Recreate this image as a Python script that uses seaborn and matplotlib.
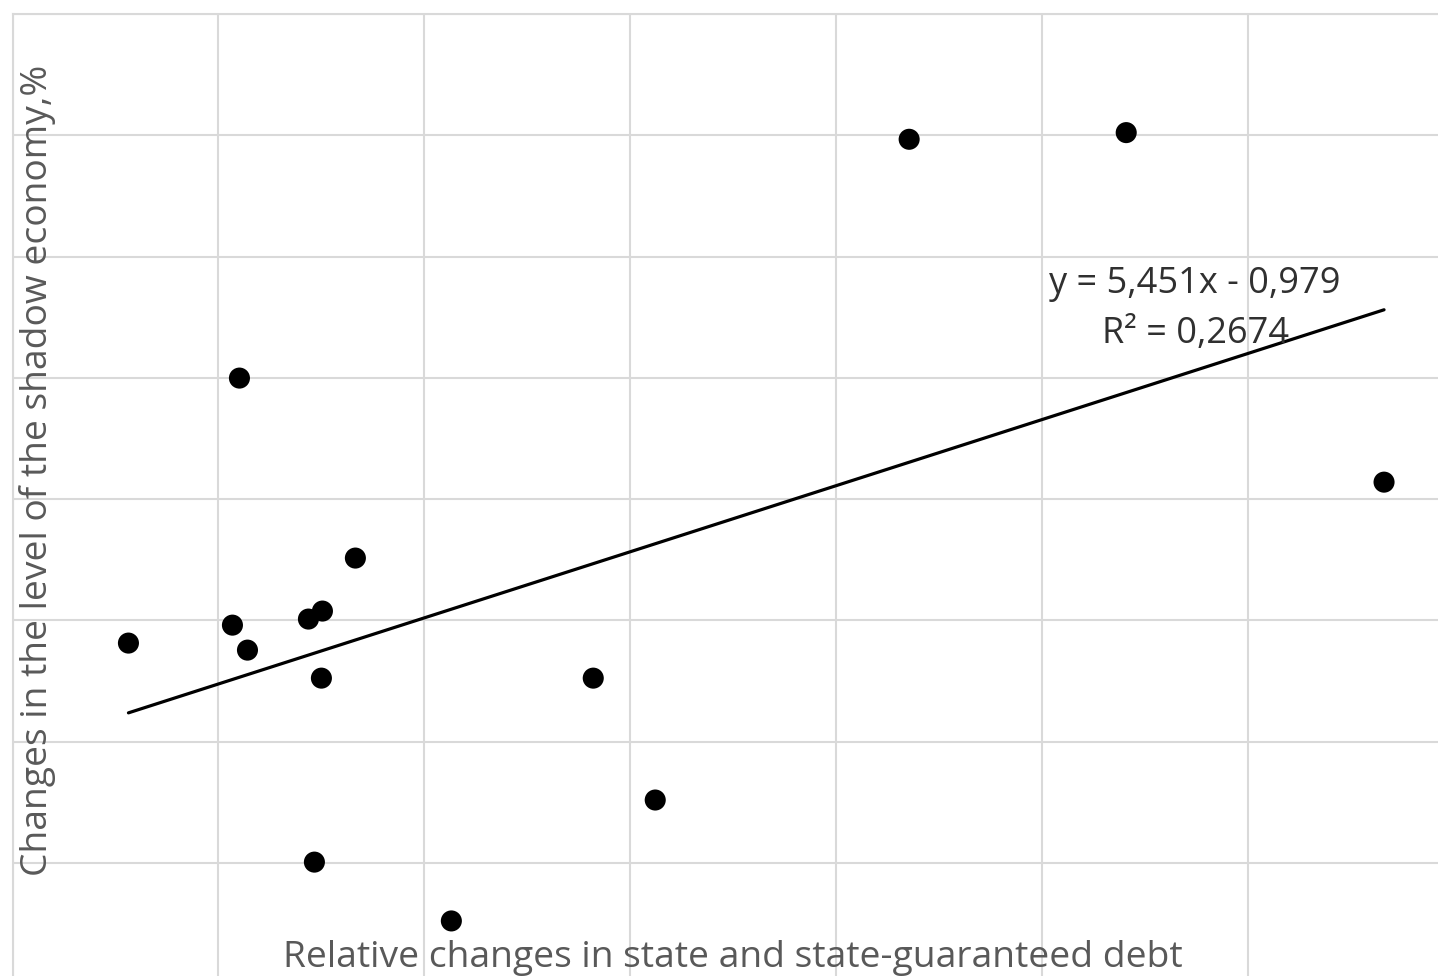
import numpy as np
import pandas as pd
import matplotlib
matplotlib.use("Agg")
import matplotlib.pyplot as plt
import seaborn as sns

# Relative change in state and state-guaranteed debt (x) vs change in shadow economy level, % (y)
debt_change = [-0.1437, -0.0898, -0.0932, -0.0859, -0.0563, -0.0495, -0.0335,
               -0.0500, -0.0534, 0.0131, 0.0820, 0.1121, 0.2354, 0.3408, 0.4660]
shadow_change = [-1.187, 0.998, -1.039, -1.245, -0.989, -0.923, -0.486,
                 -1.476, -2.993, -3.478, -1.476, -2.481, 2.967, 3.022, 0.140]

# Linear trend as reported on the chart
slope = 5.451
intercept = -0.979
r_squared = "0,2674"

x_title = "Relative changes in state and state-guaranteed debt"
y_title = "Changes in the level of the shadow economy,%"

df = pd.DataFrame({"x": debt_change, "y": shadow_change})
x_line = np.array([min(debt_change), max(debt_change)])
trend = pd.DataFrame({"x": x_line, "y": slope * x_line + intercept})

sns.set_theme(style="white")
plt.rcParams["font.family"] = ["Open Sans", "DejaVu Sans"]

W, H = 1438, 976
fig = plt.figure(figsize=(W / 100, H / 100), dpi=100)
ax = fig.add_axes([12.5 / W, 0, 1 - 12.5 / W, (H - 14) / H])

grid_c = "#d9d9d9"
sns.lineplot(data=trend, x="x", y="y", ax=ax, color="black", linewidth=2.3, zorder=3)
sns.scatterplot(data=df, x="x", y="y", ax=ax, color="black", s=230,
                edgecolor="none", zorder=4)
ax.set_xlabel("")
ax.set_ylabel("")

# ticks first, then limits (set_ticks would otherwise widen the view)
ax.set_xticks([-0.2, -0.1, 0.0, 0.1, 0.2, 0.3, 0.4])
ax.set_yticks([-4, -3, -2, -1, 0, 1, 2, 3, 4])
ax.set_xlim(-0.2, 0.4922)
ax.set_ylim(-3.932, 4.0)
ax.grid(True, color=grid_c, linewidth=1.5)
ax.tick_params(length=0, labelbottom=False, labelleft=False)
for side in ["left", "top"]:
    ax.spines[side].set_color(grid_c)
    ax.spines[side].set_linewidth(1.5)
for side in ["right", "bottom"]:
    ax.spines[side].set_visible(False)

eq_x = 0.3743
ax.text(eq_x, 1.698, f"y = {slope:.3f}x - {abs(intercept):.3f}".replace(".", ","),
        ha="center", va="baseline", fontsize=26, color="#303030", zorder=5)
ax.text(eq_x, 1.286, f"R² = {r_squared}", ha="center", va="baseline",
        fontsize=26, color="#303030", zorder=5)

fig.text(733 / W, 1 - 967 / H, x_title, ha="center", va="baseline",
         fontsize=26.8, color="#595959")
fig.text(38 / W, 1 - 470 / H, y_title, ha="center", va="center",
         rotation=90, fontsize=26.8, color="#595959")

fig.savefig("out.png", dpi=100)
